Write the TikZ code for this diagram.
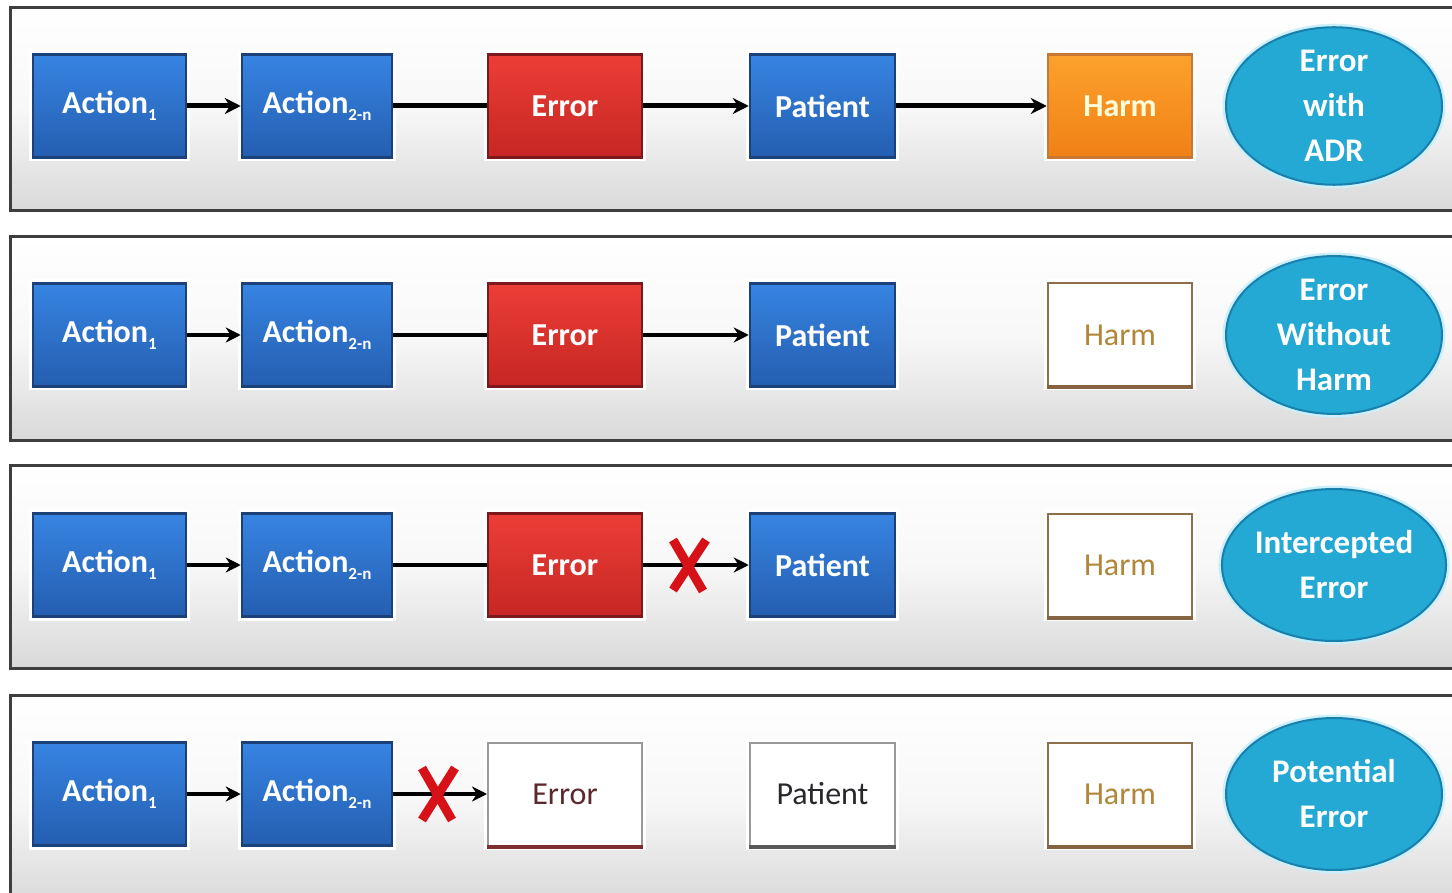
\documentclass[tikz,border=0pt]{standalone}
\usepackage{fontspec}
\setmainfont{Carlito}
\usetikzlibrary{arrows.meta,shapes.geometric}
\newcommand{\subs}[1]{\raisebox{-7pt}{\fontsize{17}{17}\selectfont #1}}
\definecolor{blueT}{RGB}{55,132,226}
\definecolor{blueB}{RGB}{36,94,176}
\definecolor{blueD}{RGB}{28,64,120}
\definecolor{redT}{RGB}{236,62,54}
\definecolor{redB}{RGB}{198,38,36}
\definecolor{redD}{RGB}{125,25,28}
\definecolor{orT}{RGB}{252,162,44}
\definecolor{orB}{RGB}{240,128,22}
\definecolor{orD}{RGB}{200,120,50}
\definecolor{cyF}{RGB}{36,168,212}
\definecolor{cyD}{RGB}{24,128,172}
\definecolor{panelD}{RGB}{62,62,62}
\definecolor{harmT}{RGB}{176,134,58}
\definecolor{errT}{RGB}{92,40,46}
\definecolor{patT}{RGB}{40,40,44}
\definecolor{xred}{RGB}{214,18,24}
\tikzset{
  panel/.style={draw=panelD, line width=3pt, top color=white, bottom color=black!15, middle color=white!97!black},
  box/.style={rectangle, minimum height=103pt, inner sep=0pt, line width=2.5pt,
    preaction={draw=white, line width=8pt}},
  bluebox/.style={box, top color=blueT, bottom color=blueB, draw=blueD, text=white,
    font=\fontsize{32}{38}\selectfont\bfseries},
  redbox/.style={box, top color=redT, bottom color=redB, draw=redD, text=white,
    font=\fontsize{32}{38}\selectfont\bfseries},
  orbox/.style={box, top color=orT, bottom color=orB, draw=orD, text=white!85!yellow,
    font=\fontsize{32}{38}\selectfont\bfseries},
  whitebox/.style={box, fill=white, draw=black!40, line width=2pt,
    font=\fontsize{32}{38}\selectfont},
  oval/.style={ellipse, minimum width=216pt, minimum height=152pt, inner sep=0pt,
    fill=cyF, draw=cyD, line width=2pt, text=white, align=center,
    font=\fontsize{33}{45}\selectfont\bfseries, preaction={draw=white!80!cyan, line width=7pt}},
  connA/.style={line width=5pt, -{Stealth[length=16pt,width=16pt]}},
  connB/.style={line width=3.5pt, -{Stealth[length=15pt,width=15pt]}},
  lineA/.style={line width=5pt},
  lineB/.style={line width=3.5pt},
  xmarkline/.style={draw=xred, line width=9pt},
  wA/.style={minimum width=153pt},
  wB/.style={minimum width=150pt},
  wE/.style={minimum width=154pt},
  wP/.style={minimum width=145pt},
  wH/.style={minimum width=144pt},
}
\begin{document}
\begin{tikzpicture}[x=1pt,y=-1pt]
\useasboundingbox (0,0) rectangle (1452,893);
\fill[white] (0,0) rectangle (1452,893);
\begin{scope}
\clip (0,0) rectangle (1452,893);
% panels
\path[panel] (10,8) rectangle (1470,211);
\path[panel] (10,237) rectangle (1470,440);
\path[panel] (10,465) rectangle (1470,668);
\path[panel] (10,695) rectangle (1470,905);
\end{scope}

% ---------- row 1: Error with ADR ----------
\node[bluebox,wA] (a1r1) at (109.5,106) {Action\subs{1}};
\node[bluebox,wB] (a2r1) at (317,106) {Action\subs{2-n}};
\node[redbox,wE] (er1) at (565,106) {Error};
\node[bluebox,wP] (pr1) at (822.5,106) {Patient};
\node[orbox,wH] (hr1) at (1120,106) {Harm};
\node[oval] (or1) at (1334,106) {Error\\with\\ADR};
\draw[connA] (a1r1) -- (a2r1);
\draw[lineA] (a2r1) -- (er1);
\draw[connA] (er1) -- (pr1);
\draw[connA] (pr1) -- (hr1);

% ---------- row 2: Error Without Harm ----------
\node[bluebox,wA] (a1r2) at (109.5,335) {Action\subs{1}};
\node[bluebox,wB] (a2r2) at (317,335) {Action\subs{2-n}};
\node[redbox,wE] (er2) at (565,335) {Error};
\node[bluebox,wP] (pr2) at (822.5,335) {Patient};
\node[whitebox,wH,draw=black!35!orange!40!gray,text=harmT] (hr2) at (1120,335) {Harm};
\node[oval] (or2) at (1334,335) {Error\\Without\\Harm};
\draw[connB] (a1r2) -- (a2r2);
\draw[lineB] (a2r2) -- (er2);
\draw[connB] (er2) -- (pr2);

% ---------- row 3: Intercepted Error ----------
\node[bluebox,wA] (a1r3) at (109.5,565) {Action\subs{1}};
\node[bluebox,wB] (a2r3) at (317,565) {Action\subs{2-n}};
\node[redbox,wE] (er3) at (565,565) {Error};
\node[bluebox,wP] (pr3) at (822.5,565) {Patient};
\node[whitebox,wH,draw=black!35!orange!40!gray,text=harmT] (hr3) at (1120,565) {Harm};
\node[oval] (or3) at (1334,565) {Intercepted\\Error};
\draw[connB] (a1r3) -- (a2r3);
\draw[lineB] (a2r3) -- (er3);
\draw[connB] (er3) -- (pr3);
\coordinate (x3) at (689,565);
\draw[xmarkline] ([shift={(-16,-25)}]x3) -- ([shift={(14,26)}]x3);
\draw[xmarkline] ([shift={(17,-25)}]x3) -- ([shift={(-16,25)}]x3);

% ---------- row 4: Potential Error ----------
\node[bluebox,wA] (a1r4) at (109.5,794) {Action\subs{1}};
\node[bluebox,wB] (a2r4) at (317,794) {Action\subs{2-n}};
\node[whitebox,wE,text=errT] (er4) at (565,794) {Error};
\node[whitebox,wP,text=patT] (pr4) at (822.5,794) {Patient};
\node[whitebox,wH,draw=black!35!orange!40!gray,text=harmT] (hr4) at (1120,794) {Harm};
\node[oval] (or4) at (1334,794) {Potential\\Error};
\draw[line width=4pt, draw=redD!80!gray] (er4.south west) -- (er4.south east);
\draw[line width=4pt, draw=black!65] (pr4.south west) -- (pr4.south east);
\draw[line width=4pt, draw=black!45!orange!50!gray] (hr4.south west) -- (hr4.south east);
\draw[line width=4pt, draw=black!45!orange!50!gray] (hr3.south west) -- (hr3.south east);
\draw[line width=4pt, draw=black!45!orange!50!gray] (hr2.south west) -- (hr2.south east);
\draw[connB] (a1r4) -- (a2r4);
\draw[connB] (a2r4) -- (er4);
\coordinate (x4) at (438,794);
\draw[xmarkline] ([shift={(-16,-26)}]x4) -- ([shift={(14,26)}]x4);
\draw[xmarkline] ([shift={(17,-26)}]x4) -- ([shift={(-16,26)}]x4);
\end{tikzpicture}
\end{document}
